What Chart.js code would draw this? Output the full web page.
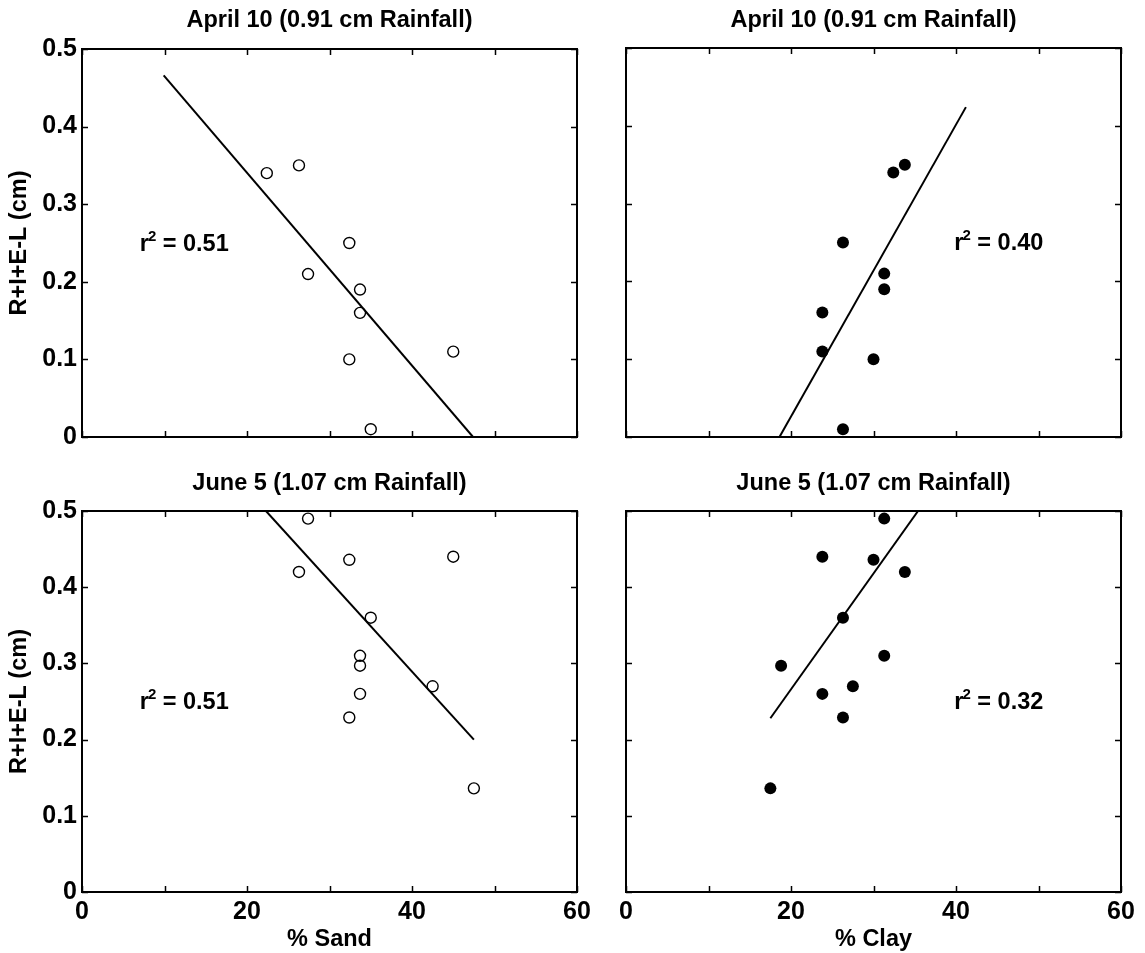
<!DOCTYPE html>
<html>
<head>
<meta charset="utf-8">
<title>R+I+E-L vs soil texture</title>
<script src="https://cdn.jsdelivr.net/npm/chart.js@4.4.1/dist/chart.umd.min.js"></script>
<style>
  html, body { margin: 0; padding: 0; background: #fff; }
  #wrap { position: relative; width: 1145px; height: 953px; }
  #wrap canvas { position: absolute; }
</style>
</head>
<body>
<div id="wrap">
  <canvas id="cAprSand" width="600" height="460" style="left:0;top:0"></canvas>
  <canvas id="cAprClay" width="545" height="460" style="left:600px;top:0"></canvas>
  <canvas id="cJunSand" width="600" height="493" style="left:0;top:460px"></canvas>
  <canvas id="cJunClay" width="545" height="493" style="left:600px;top:460px"></canvas>
</div>
<script>
// --- datos ---
const aprilY    = [0.34, 0.35, 0.25, 0.21, 0.19, 0.16, 0.10, 0.11, 0.01];
const aprilSand = [22.4, 26.3, 32.4, 27.4, 33.7, 33.7, 32.4, 45.0, 35.0];
const aprilClay = [32.4, 33.8, 26.3, 31.3, 31.3, 23.8, 30.0, 23.8, 26.3];

const juneY    = [0.49, 0.42, 0.436, 0.44, 0.36, 0.31, 0.297, 0.26, 0.229, 0.27, 0.136];
const juneSand = [27.4, 26.3, 32.4, 45.0, 35.0, 33.7, 33.7, 33.7, 32.4, 42.5, 47.5];
const juneClay = [31.3, 33.8, 30.0, 23.8, 26.3, 31.3, 18.8, 23.8, 26.3, 27.5, 17.5];

// rectas de ajuste (extremos)
const aprilSandFitX = [9.9, 47.4],  aprilSandFitY = [0.466, 0];
const aprilClayFitX = [18.6, 41.2], aprilClayFitY = [0, 0.424];
const juneSandFitX  = [22.3, 47.5], juneSandFitY  = [0.5, 0.2];
const juneClayFitX  = [17.5, 35.4], juneClayFitY  = [0.228, 0.5];

const rSquared = ['0.51', '0.40', '0.51', '0.32'];

const xTicks = [0, 10, 20, 30, 40, 50, 60];
const xLabeled = [0, 20, 40, 60];
const yTicks = [0, 0.1, 0.2, 0.3, 0.4, 0.5];

const titles = ['April 10 (0.91 cm Rainfall)', 'June 5 (1.07 cm Rainfall)'];
const yTitle = 'R+I+E-L (cm)';
const xTitles = ['% Sand', '% Clay'];

// --- estilo ---
const FONT = 'Arial, "Liberation Sans", Helvetica, sans-serif';
const TICK = 6;
Chart.defaults.font.family = FONT;
Chart.defaults.color = '#000';

const toPts = (xs, ys) => xs.map((x, i) => ({ x, y: ys[i] }));

// marco con marcas hacia adentro + etiqueta r^2
const framePlugin = {
  id: 'frame',
  afterDraw(chart, args, opts) {
    const { ctx, chartArea: a, scales: { x, y } } = chart;
    ctx.save();
    ctx.strokeStyle = '#000';
    ctx.lineWidth = 1.5;
    ctx.beginPath();
    for (const v of xTicks) {
      const px = Math.round(x.getPixelForValue(v)) + 0.5;
      ctx.moveTo(px, a.bottom); ctx.lineTo(px, a.bottom - TICK);
      ctx.moveTo(px, a.top);    ctx.lineTo(px, a.top + TICK);
    }
    for (const v of yTicks) {
      const py = Math.round(y.getPixelForValue(v)) + 0.5;
      ctx.moveTo(a.left, py);  ctx.lineTo(a.left + TICK, py);
      ctx.moveTo(a.right, py); ctx.lineTo(a.right - TICK, py);
    }
    ctx.stroke();
    ctx.lineWidth = 2;
    ctx.strokeRect(a.left, a.top, a.right - a.left, a.bottom - a.top);

    if (opts && opts.r2) {
      let tx = x.getPixelForValue(opts.at[0]);
      const ty = y.getPixelForValue(opts.at[1]);
      ctx.fillStyle = '#000';
      ctx.textBaseline = 'alphabetic';
      ctx.textAlign = 'left';
      ctx.font = 'bold 23.5px ' + FONT;
      ctx.fillText('r', tx, ty);
      tx += ctx.measureText('r').width - 1;
      ctx.font = 'bold 15px ' + FONT;
      ctx.fillText('2', tx, ty - 10);
      tx += ctx.measureText('2').width;
      ctx.font = 'bold 23.5px ' + FONT;
      ctx.fillText(' = ' + opts.r2, tx, ty);
    }
    ctx.restore();
  }
};

function makePanel(id, cfg) {
  const canvas = document.getElementById(id);
  const pts = {
    type: 'scatter',
    data: toPts(cfg.xs, cfg.ys),
    pointRadius: cfg.filled ? 6 : 5.5,
    pointHoverRadius: cfg.filled ? 6 : 5.5,
    pointBackgroundColor: cfg.filled ? '#000' : 'rgba(0,0,0,0)',
    pointBorderColor: '#000',
    pointBorderWidth: cfg.filled ? 0 : 1.4,
    showLine: false,
    order: 1
  };
  const fit = {
    type: 'scatter',
    data: toPts(cfg.fitX, cfg.fitY),
    showLine: true,
    borderColor: '#000',
    borderWidth: 2,
    pointRadius: 0,
    order: 2
  };

  return new Chart(canvas, {
    type: 'scatter',
    data: { datasets: [pts, fit] },
    options: {
      responsive: false,
      animation: false,
      devicePixelRatio: 1,
      layout: { padding: { left: 0, right: cfg.padRight, top: 0, bottom: 0 } },
      scales: {
        x: {
          type: 'linear', min: 0, max: 60,
          afterBuildTicks: s => { s.ticks = xTicks.map(v => ({ value: v })); },
          afterFit: s => { s.height = cfg.xH; },
          grid: { display: false, drawTicks: false },
          border: { display: false },
          ticks: {
            display: cfg.showX,
            padding: 8,
            autoSkip: false,
            maxRotation: 0,
            font: { size: 25, weight: 'bold', lineHeight: 1 },
            callback: v => (xLabeled.includes(v) ? String(v) : '')
          },
          title: {
            display: cfg.showX,
            text: cfg.xTitle,
            font: { size: 23.5, weight: 'bold', lineHeight: 1 },
            padding: { top: 0, bottom: 1.5 }
          }
        },
        y: {
          type: 'linear', min: 0, max: 0.5,
          afterBuildTicks: s => { s.ticks = yTicks.map(v => ({ value: v })); },
          afterFit: s => { s.width = cfg.yW; },
          grid: { display: false, drawTicks: false },
          border: { display: false },
          ticks: {
            display: cfg.showY,
            padding: 5,
            font: { size: 25, weight: 'bold', lineHeight: 1 },
            callback: v => (v === 0 ? '0' : v.toFixed(1))
          },
          title: {
            display: cfg.showY,
            text: yTitle,
            font: { size: 23.5, weight: 'bold', lineHeight: 1 },
            padding: { top: 8, bottom: 0 }
          }
        }
      },
      plugins: {
        legend: { display: false },
        tooltip: { enabled: false },
        title: {
          display: true,
          text: cfg.title,
          fullSize: false,
          color: '#000',
          font: { size: 23.5, weight: 'bold', lineHeight: 1 },
          padding: { top: cfg.titleTop, bottom: cfg.titleBottom }
        },
        frame: { r2: cfg.r2, at: cfg.r2At }
      }
    },
    plugins: [framePlugin]
  });
}

makePanel('cAprSand', {
  xs: aprilSand, ys: aprilY, fitX: aprilSandFitX, fitY: aprilSandFitY, filled: false,
  title: titles[0], xTitle: xTitles[0], showX: false, showY: true,
  yW: 82, xH: 23, padRight: 23, titleTop: 8.5, titleBottom: 17,
  r2: rSquared[0], r2At: [7.0, 0.24]
});
makePanel('cAprClay', {
  xs: aprilClay, ys: aprilY, fitX: aprilClayFitX, fitY: aprilClayFitY, filled: true,
  title: titles[0], xTitle: xTitles[1], showX: false, showY: false,
  yW: 26, xH: 23, padRight: 24, titleTop: 8.5, titleBottom: 16,
  r2: rSquared[1], r2At: [39.8, 0.24]
});
makePanel('cJunSand', {
  xs: juneSand, ys: juneY, fitX: juneSandFitX, fitY: juneSandFitY, filled: false,
  title: titles[1], xTitle: xTitles[0], showX: true, showY: true,
  yW: 82, xH: 61, padRight: 23, titleTop: 12, titleBottom: 15.5,
  r2: rSquared[2], r2At: [7.0, 0.24]
});
makePanel('cJunClay', {
  xs: juneClay, ys: juneY, fitX: juneClayFitX, fitY: juneClayFitY, filled: true,
  title: titles[1], xTitle: xTitles[1], showX: true, showY: false,
  yW: 26, xH: 61, padRight: 24, titleTop: 12, titleBottom: 15.5,
  r2: rSquared[3], r2At: [39.8, 0.24]
});
</script>
</body>
</html>
